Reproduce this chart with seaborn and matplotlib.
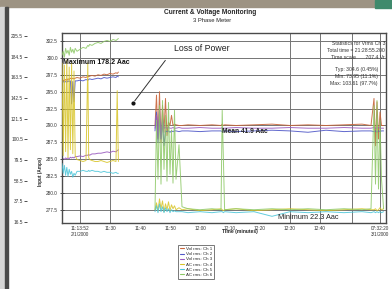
import numpy as np
import pandas as pd
import seaborn as sns
import matplotlib
matplotlib.use('Agg')
import matplotlib.pyplot as plt
from matplotlib.patches import Rectangle
from matplotlib.lines import Line2D

sns.set_theme(style='white')
plt.rcParams['font.family'] = ['Liberation Sans', 'DejaVu Sans']

# time axis (sample index, 1 unit per 3 chart pixels)
pre_t = [0.0, 0.4, 0.8, 1.2, 1.6, 2.0, 2.4, 2.8, 3.2, 3.6, 4.0, 4.4, 5.0, 6.0, 7.0,
         8.0, 8.6, 8.9, 9.2, 10.0, 11.0, 12.0, 13.0, 14.0, 15.0, 16.0, 17.0, 18.0, 18.4, 18.8]
post_t = [31, 31.5, 32, 32.5, 33, 33.5, 34, 34.5, 35, 35.5, 36, 36.5, 37, 37.5, 38,
          39, 40, 42, 46, 50, 53, 53.4, 53.8, 54.2, 58, 64, 70, 76, 82, 88, 94, 100,
          103, 104, 104.5, 105, 105.5, 106, 106.5, 107.2]

# voltages (inner scale)
v1_pre = [296.6, 296.7, 296.6, 296.8, 296.7, 296.9, 296.8, 297.0, 296.9, 297.0, 296.9, 297.0, 297.1, 297.0, 297.2,
          297.1, 297.3, 297.2, 297.3, 297.4, 297.3, 297.5, 297.4, 297.6, 297.5, 297.7, 297.6, 297.8, 297.7, 297.9]
v2_pre = [296.4, 296.5, 296.4, 296.5, 296.4, 296.6, 296.5, 296.6, 293.2, 296.5, 293.5, 296.6, 296.6, 296.7, 296.6,
          296.8, 296.7, 296.8, 296.9, 296.8, 296.9, 297.0, 296.9, 297.1, 297.0, 297.1, 297.2, 297.1, 297.3, 297.2]
v3_pre = [285.0, 285.1, 285.0, 285.2, 285.1, 285.2, 285.1, 285.3, 285.2, 285.3, 285.2, 285.4, 285.4, 285.5, 285.4,
          285.6, 285.6, 285.7, 285.6, 285.8, 285.8, 285.9, 285.9, 286.0, 286.1, 286.0, 286.2, 286.1, 286.3, 286.4]
v1_post = [290.0, 294.5, 288.0, 295.0, 287.5, 293.0, 289.0, 294.0, 288.5, 290.5, 290.0, 291.5, 290.0, 290.2, 290.1,
           290.0, 290.0, 290.1, 290.0, 290.1, 290.0, 290.2, 290.0, 290.1, 290.0, 290.1, 290.2, 290.0, 290.1, 290.0,
           290.1, 290.2, 290.0, 294.0, 287.0, 293.5, 288.0, 292.0, 290.0, 290.0]
v2_post = [289.2, 292.0, 287.5, 291.0, 288.0, 290.5, 287.0, 289.2, 289.1, 289.2, 289.0, 289.2, 289.1, 289.2, 289.2,
           289.1, 289.2, 289.2, 289.1, 289.2, 289.2, 289.1, 289.2, 289.2, 289.1, 289.2, 289.3, 289.2, 289.0, 289.3,
           289.1, 289.2, 289.2, 289.1, 289.2, 289.0, 289.2, 289.1, 289.2, 289.2]
v3_post = [289.6, 291.5, 288.2, 292.5, 288.0, 291.0, 289.6, 289.7, 289.6, 289.7, 289.6, 289.6, 289.7, 289.6, 289.6,
           289.7, 289.6, 289.6, 289.7, 289.6, 289.6, 289.7, 289.6, 289.6, 289.7, 289.6, 289.6, 289.7, 289.6, 289.6,
           289.7, 289.6, 289.6, 289.7, 289.6, 289.6, 289.7, 289.6, 289.6, 289.6]

# currents (outer scale, Aac)
a1_pre = [178, 84, 176, 88, 181, 82, 174, 90, 178, 86, 170, 84, 80, 79, 78,
          79, 178.2, 82, 80, 79, 78, 78, 79, 78, 77, 78, 79, 78, 150, 78]
a2_pre = [76, 66, 74, 64, 72, 63, 70, 65, 68, 62, 66, 64, 68, 68, 69,
          68, 68, 69, 68, 69, 68, 68, 67, 68, 67, 67, 66, 67, 66, 66]
a3_pre = [186, 190, 184, 193, 188, 191, 186, 194, 189, 192, 188, 193, 190, 192, 194,
          193, 196, 195, 197, 196, 198, 199, 198, 200, 201, 200, 202, 201, 202, 203]
a1_post = [29, 36, 28, 40, 30, 38, 27, 35, 29, 37, 28, 34, 30, 33, 29,
           31, 29, 30, 28, 29, 30, 29, 28, 29, 30, 28, 29, 30, 29, 28,
           29, 30, 29, 29, 30, 28, 29, 31, 29, 30]
a2_post = [27, 33, 26, 35, 27, 32, 26, 31, 27, 30, 26, 29, 27, 28, 27,
           27, 27, 26, 27, 26, 27, 27, 26, 27, 26, 27, 22.3, 27, 26, 27,
           26, 27, 26, 27, 26, 27, 26, 27, 26, 27]
a3_post = [29, 120, 60, 135, 55, 140, 70, 125, 58, 138, 65, 110, 56, 130, 60,
           95, 32, 30, 29, 30, 29, 130, 80, 29, 30, 29, 30, 29, 30, 29,
           30, 29, 30, 135, 55, 140, 50, 120, 60, 30]

volt_names = ['Vol rms: Ch 1', 'Vol rms: Ch 2', 'Vol rms: Ch 3']
amp_names = ['AC rms: Ch 4', 'AC rms: Ch 5', 'AC rms: Ch 6']
volt_colors = ['#c8643a', '#5058c8', '#9a5cc0']
amp_colors = ['#d8c426', '#48c4d8', '#8cc864']

volt_ticks = [302.5, 300.0, 297.5, 295.0, 292.5, 290.0, 287.5, 285.0, 282.5, 280.0, 277.5]
amp_ticks = [16.5, 37.5, 58.5, 79.5, 100.5, 121.5, 142.5, 163.5, 184.5, 205.5]
x_ticks = [6, 16, 26, 36, 46, 56, 66, 76, 86, 106]
x_labels = ['11:13:52\n2/1/2000', '11:30', '11:40', '11:50', '12:00', '12:10',
            '12:20', '12:30', '12:40', '07:32:20\n3/1/2000']
x_grid = [6, 16, 76, 86, 96.7, 106]


def long_frame(names, pre, post):
    rows = []
    for name, p, q in zip(names, pre, post):
        for t, v in zip(pre_t, p):
            rows.append({'series': name, 'seg': 0, 't': t, 'val': v})
        for t, v in zip(post_t, q):
            rows.append({'series': name, 'seg': 1, 't': t, 'val': v})
    return pd.DataFrame(rows)


df_v = long_frame(volt_names, [v1_pre, v2_pre, v3_pre], [v1_post, v2_post, v3_post])
df_a = long_frame(amp_names, [a1_pre, a2_pre, a3_pre], [a1_post, a2_post, a3_post])

W, H = 392, 289
fig = plt.figure(figsize=(W / 100, H / 100), dpi=100)
fig.patch.set_facecolor('white')

# photo frame bits
fig.patches.append(Rectangle((0, 1 - 7 / H), 1, 7 / H, transform=fig.transFigure, color='#9d9383', zorder=0))
fig.patches.append(Rectangle((375 / W, 1 - 8 / H), 17 / W, 8 / H, transform=fig.transFigure, color='#3f8a6c', zorder=1))
fig.patches.append(Rectangle((0, 0), 5 / W, 1 - 7 / H, transform=fig.transFigure, color='#d6d6d6', zorder=0))
fig.patches.append(Rectangle((5 / W, 0), 3 / W, 1 - 7 / H, transform=fig.transFigure, color='#4a4a4a', zorder=1))

ax = fig.add_axes([62 / W, 1 - 223 / H, 324 / W, 190 / H])
ax2 = ax.twinx()

sns.lineplot(data=df_v, x='t', y='val', hue='series', units='seg', estimator=None, sort=False,
             palette=volt_colors, lw=0.7, alpha=0.9, ax=ax, legend=False)
sns.lineplot(data=df_a, x='t', y='val', hue='series', units='seg', estimator=None, sort=False,
             palette=amp_colors, lw=0.7, alpha=0.85, ax=ax2, legend=False)

grid_c = '#747474'
ax.set_xlim(0, 108)
ax.set_ylim(275.58, 303.68)
ax.set_yticks(volt_ticks)
ax.set_yticklabels([f'{v:.1f}' for v in volt_ticks])
ax.yaxis.grid(True, color=grid_c, lw=0.7)
for gx in x_grid:
    ax.axvline(gx, color=grid_c, lw=0.7, zorder=0.5)
ax.set_xticks(x_ticks)
ax.set_xticklabels(x_labels)
ax.tick_params(axis='x', labelsize=3.4, length=0, pad=2, colors='#333333')
ax.tick_params(axis='y', labelsize=3.4, direction='inout', length=3, width=0.6, pad=1.5, colors='#333333')
ax.set_xlabel('')
ax.set_ylabel('')
for s in ax.spines.values():
    s.set_color('#4a4a4a')
    s.set_linewidth(1.0)

ax2.set_ylim(15.5, 208.6)
ax2.set_yticks(amp_ticks)
ax2.set_yticklabels([f'{v:.1f}' for v in amp_ticks])
ax2.yaxis.tick_left()
ax2.spines['left'].set_position(('outward', 27))
for s in ax2.spines.values():
    s.set_visible(False)
ax2.tick_params(axis='y', labelsize=3.4, direction='in', length=2.2, width=0.6, pad=1, colors='#333333')
ax2.set_ylabel('')

# annotations
ax2.text(0.3, 178.2, 'Maximum 178.2 Aac', fontsize=5, fontweight='bold', va='center', ha='left', color='#111111')
ax2.text(37.5, 193, 'Loss of Power', fontsize=6.3, va='center', ha='left', color='#222222')
ax2.annotate('', xy=(23.7, 137.4), xytext=(35, 183), arrowprops=dict(arrowstyle='-', color='#333333', lw=0.7))
ax2.scatter([23.7], [137.4], s=4, color='#111111', zorder=5)
ax2.text(53.5, 109, 'Mean 41.9 Aac', fontsize=4.8, fontweight='bold', va='center', ha='left', color='#222222')
ax2.text(72, 20.8, 'Minimum 22.3 Aac', fontsize=5.3, va='center', ha='left', color='#222222')

stats1 = 'Statistics for Vrms Ch 3\nTotal time = 21:28:55.200\nTime scale       707.4 Vr'
stats2 = 'Typ: 304.6 (0.45%)\nMin: 73.95 (11.1%)\nMax: 103.61 (97.7%)'
fig.text(385 / W, 1 - 41 / H, stats1, fontsize=3.7, ha='right', va='top', color='#333333', linespacing=1.5)
fig.text(378 / W, 1 - 67 / H, stats2, fontsize=3.7, ha='right', va='top', color='#333333', linespacing=1.5)

fig.text(210 / W, 1 - 13 / H, 'Current & Voltage Monitoring', fontsize=4.8, fontweight='bold', ha='center', va='center')
fig.text(212 / W, 1 - 21 / H, '3 Phase Meter', fontsize=4.2, ha='center', va='center')
fig.text(240 / W, 1 - 232 / H, 'Time (minutes)', fontsize=3.6, fontweight='bold', ha='center', va='center')
fig.text(40.5 / W, 1 - 172 / H, 'Input (Amps)', fontsize=3.3, fontweight='bold', rotation=90, ha='center', va='center')

handles = [Line2D([], [], color=c, lw=0.8) for c in volt_colors + amp_colors]
leg = fig.legend(handles, volt_names + amp_names, loc='upper left', bbox_to_anchor=(176 / W, 1 - 243 / H),
                 fontsize=3.2, frameon=True, fancybox=False, edgecolor='#555555', handlelength=1.0,
                 borderpad=0.35, labelspacing=0.25, handletextpad=0.4)
leg.get_frame().set_linewidth(0.7)

fig.savefig('out.png', dpi=100)
plt.close()
